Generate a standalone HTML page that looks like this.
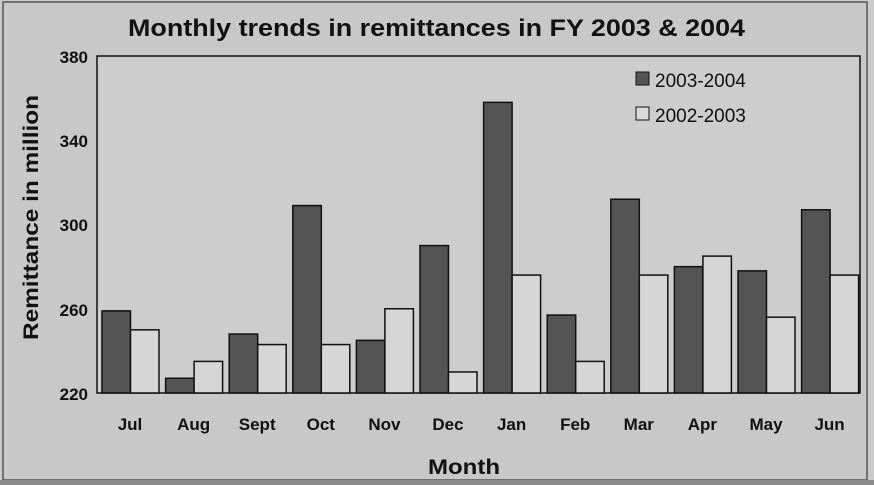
<!DOCTYPE html>
<html><head><style>body{margin:0;background:#c9c9c9}svg{display:block}</style></head><body>
<svg width="874" height="485" xmlns="http://www.w3.org/2000/svg" font-family="Liberation Sans, sans-serif" font-weight="bold">
<rect width="874" height="485" fill="#cbcbcb"/>
<rect x="3" y="2" width="864" height="478" fill="#c8c8c8" stroke="#555" stroke-width="1.5"/>
<rect x="0" y="480" width="874" height="5" fill="#8a8a8a"/>
<text x="128" y="36" font-size="24" textLength="617" lengthAdjust="spacingAndGlyphs" fill="#111">Monthly trends in remittances in FY 2003 &amp; 2004</text>
<rect x="97" y="56" width="763" height="337" fill="#cdcdcd" stroke="#111" stroke-width="1.5"/>
<g font-size="17" text-anchor="end" fill="#111">
<text x="88" y="63">380</text><text x="88" y="147">340</text><text x="88" y="231">300</text><text x="88" y="316">260</text><text x="88" y="400">220</text>
</g>
<text transform="translate(38,340) rotate(-90)" font-size="21" textLength="245" lengthAdjust="spacingAndGlyphs" fill="#111">Remittance in million</text>
<text x="428" y="474" font-size="21" textLength="72" lengthAdjust="spacingAndGlyphs" fill="#111">Month</text>
<g id="bars" stroke="#111" stroke-width="1.5"></g>
<g id="lbl" font-size="17" text-anchor="middle" fill="#111"></g>
<rect x="636" y="72" width="13" height="13" fill="#555" stroke="#111"/>
<text x="655" y="87" font-size="19" font-weight="normal" fill="#111">2003-2004</text>
<rect x="636" y="107" width="13" height="13" fill="#dadada" stroke="#111"/>
<text x="655" y="122" font-size="19" font-weight="normal" fill="#111">2002-2003</text>
<script>
var m=["Jul","Aug","Sept","Oct","Nov","Dec","Jan","Feb","Mar","Apr","May","Jun"];
var a=[259,227,248,309,245,290,358,257,312,280,278,307];
var b=[250,235,243,243,260,230,276,235,276,285,256,276];
var ns="http://www.w3.org/2000/svg",g=document.getElementById("bars"),l=document.getElementById("lbl");
function y(v){return 393-(v-220)*2.106;}
for(var i=0;i<12;i++){var x=97+i*63.6+5;
[[a[i],"#545454",x],[b[i],"#d6d6d6",x+28.5]].forEach(function(d){var r=document.createElementNS(ns,"rect");
r.setAttribute("x",d[2]);r.setAttribute("y",y(d[0]));r.setAttribute("width",28.5);r.setAttribute("height",393-y(d[0]));r.setAttribute("fill",d[1]);g.appendChild(r);});
var t=document.createElementNS(ns,"text");t.setAttribute("x",x+28);t.setAttribute("y",430);t.textContent=m[i];l.appendChild(t);}
</script>
</svg>
</body></html>
